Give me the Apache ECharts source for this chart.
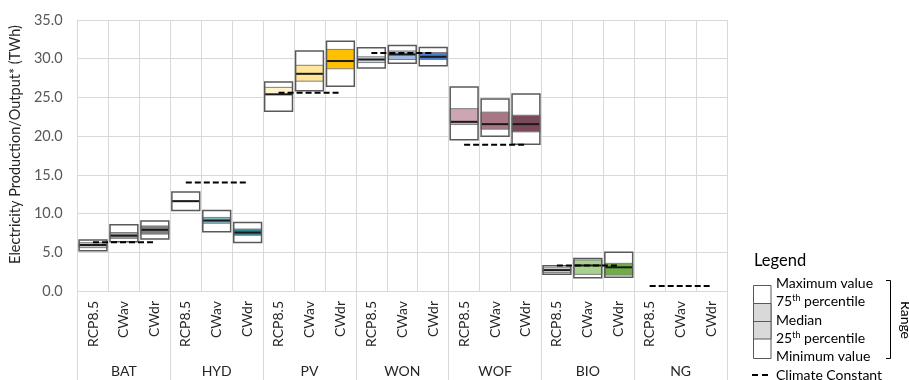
<!DOCTYPE html>
<html><head><meta charset="utf-8">
<script src="https://cdn.jsdelivr.net/npm/echarts@6/dist/echarts.min.js"></script>
<style>html,body{margin:0;padding:0;background:#fff}#c{width:909px;height:380px}</style>
</head><body><div id="c"></div>
<script>
// ---- data ----
const groups = ['BAT', 'HYD', 'PV', 'WON', 'WOF', 'BIO', 'NG'];
const scenarios = ['RCP8.5', 'CWav', 'CWdr'];
const minVal    = [5.2, 6.35, 6.7,   10.4, 7.65, 6.25,   23.2, 25.85, 26.45,   28.8, 29.4, 29.1,    19.55, 20.0, 18.95,   2.15, 1.72, 1.77,   null, null, null];
const q1Val     = [5.6, 6.8, 7.35,   11.6, 8.75, 7.2,    25.4, 27.1, 28.7,     29.5, 29.9, 29.9,    21.5, 20.9, 20.55,    2.4, 2.15, 2.06,    null, null, null];
const medianVal = [5.94, 7.15, 7.9,  11.6, 9.1, 7.55,    25.4, 28.05, 29.7,    29.9, 30.55, 30.25,  21.85, 21.55, 21.55,  2.7, 3.3, 3.06,     null, null, null];
const q3Val     = [6.24, 7.55, 8.4,  11.6, 9.5, 8.0,     26.3, 29.15, 31.2,    30.25, 31.0, 30.8,   23.55, 23.1, 22.7,    3.0, 4.0, 3.57,     null, null, null];
const maxVal    = [6.6, 8.55, 9.05,  12.8, 10.4, 8.85,   27.0, 31.0, 32.25,    31.4, 31.7, 31.45,   26.35, 24.8, 25.45,   3.27, 4.2, 4.99,    null, null, null];
const climateConstant = [6.3, 14.0, 25.6, 30.75, 18.9, 3.3, 0.65];
const yTicks = [0, 5, 10, 15, 20, 25, 30, 35];

// ---- styles ----
const bandColors = ['#c8c8c8', '#a3a3a3', '#7f7f7f',
                    '#ffffff', '#7fb7c0', '#2e8797',
                    '#fff2cc', '#ffe699', '#ffc000',
                    '#cdd5e3', '#a2badf', '#4a7fcf',
                    '#cda6b1', '#a97686', '#7b4a58',
                    '#e4e4e4', '#a9d18e', '#70ad47',
                    '#ffffff', '#ffffff', '#ffffff'];
const FONT = 'Lato, sans-serif';

const categories = [];
groups.forEach(g => scenarios.forEach(s => categories.push(g + '|' + s)));

const boxData = [];
categories.forEach((c, i) => {
  if (minVal[i] == null) return;
  boxData.push([i, minVal[i], q1Val[i], medianVal[i], q3Val[i], maxVal[i]]);
});

const lineSeries = groups.map((g, gi) => {
  const d = categories.map(() => '-');
  for (let k = 0; k < 3; k++) d[gi * 3 + k] = climateConstant[gi];
  return {
    type: 'line', name: 'Climate Constant ' + g, data: d, symbol: 'none', z: 5,
    lineStyle: { color: '#000', width: 2, type: [6, 3] }, silent: true
  };
});

const sup = { a: { fontSize: 14, fill: '#000', fontFamily: FONT }, s: { fontSize: 9, fill: '#000', fontFamily: FONT, verticalAlign: 'top', padding: [0, 0, 6, 0] } };

const chart = echarts.init(document.getElementById('c'), null, { renderer: 'canvas' });
chart.setOption({
  animation: false,
  textStyle: { fontFamily: FONT },
  grid: { left: 76, right: 182, top: 20, bottom: 89, containLabel: false },
  xAxis: [{
    type: 'category', data: categories, position: 'bottom',
    axisLine: { show: true, lineStyle: { color: '#d9d9d9', width: 1 } },
    axisTick: { show: false },
    splitLine: { show: true, interval: 0, lineStyle: { color: '#d9d9d9', width: 1 } },
    axisLabel: { interval: 0, rotate: 90, margin: 10, fontSize: 14, color: '#262626', fontFamily: FONT,
      formatter: v => v.split('|')[1] }
  }, {
    type: 'category', data: groups, position: 'bottom',
    axisLine: { show: false },
    axisTick: { show: true, interval: 0, length: 89, lineStyle: { color: '#d9d9d9', width: 1 } },
    axisLabel: { interval: 0, margin: 73, fontSize: 14, color: '#262626', fontFamily: FONT }
  }],
  yAxis: {
    type: 'value', min: yTicks[0], max: yTicks[yTicks.length - 1], interval: 5,
    name: 'Electricity Production/Output* (TWh)', nameLocation: 'middle', nameGap: 51,
    nameTextStyle: { fontSize: 14.5, color: '#262626', fontFamily: FONT, padding: [0, 0, 0, 22] },
    axisLine: { show: false }, axisTick: { show: false },
    axisLabel: { fontSize: 14.5, color: '#595959', margin: 15, fontFamily: FONT, formatter: v => v.toFixed(1) },
    splitLine: { lineStyle: { color: '#d9d9d9', width: 1 } }
  },
  series: [{
    type: 'custom', name: 'range', data: boxData, z: 3,
    encode: { x: 0, y: [1, 2, 3, 4, 5] },
    renderItem: function (params, api) {
      const i = api.value(0);
      const x = api.coord([i, 0])[0];
      const w = api.size([1, 0])[0] * 0.9;
      const yMin = api.coord([i, api.value(1)])[1];
      const yQ1 = api.coord([i, api.value(2)])[1];
      const yMed = api.coord([i, api.value(3)])[1];
      const yQ3 = api.coord([i, api.value(4)])[1];
      const yMax = api.coord([i, api.value(5)])[1];
      const x0 = x - w / 2;
      return { type: 'group', children: [
        { type: 'rect', shape: { x: x0, y: yMax, width: w, height: yMin - yMax }, style: { fill: '#fff', stroke: null } },
        { type: 'rect', shape: { x: x0, y: yQ3, width: w, height: yQ1 - yQ3 }, style: { fill: bandColors[i], stroke: '#7f7f7f', lineWidth: 1 } },
        { type: 'line', shape: { x1: x0, y1: yMed, x2: x0 + w, y2: yMed }, style: { stroke: '#1a1a1a', lineWidth: 2 } },
        { type: 'rect', shape: { x: x0, y: yMax, width: w, height: yMin - yMax }, style: { fill: 'none', stroke: '#595959', lineWidth: 1.5 } }
      ] };
    }
  }].concat(lineSeries),
  graphic: [
    { type: 'text', left: 754, top: 252, style: { text: 'Legend', fontSize: 16.5, fill: '#000', fontFamily: FONT } },
    { type: 'rect', shape: { x: 753.5, y: 285.5, width: 17.5, height: 73 }, style: { fill: '#fff', stroke: '#595959', lineWidth: 1 } },
    { type: 'rect', shape: { x: 753.5, y: 303.5, width: 17.5, height: 35.5 }, style: { fill: '#d9d9d9', stroke: '#595959', lineWidth: 1 } },
    { type: 'line', shape: { x1: 753.5, y1: 321.5, x2: 771, y2: 321.5 }, style: { stroke: '#595959', lineWidth: 1 } },
    { type: 'text', x: 776, y: 283, style: { text: 'Maximum value', fontSize: 14, fill: '#000', fontFamily: FONT, verticalAlign: 'middle' } },
    { type: 'text', x: 776, y: 301, style: { text: '{a|75}{s|th}{a| percentile}', fontFamily: FONT, verticalAlign: 'middle', rich: sup } },
    { type: 'text', x: 776, y: 320, style: { text: 'Median', fontSize: 14, fill: '#000', fontFamily: FONT, verticalAlign: 'middle' } },
    { type: 'text', x: 776, y: 338, style: { text: '{a|25}{s|th}{a| percentile}', fontFamily: FONT, verticalAlign: 'middle', rich: sup } },
    { type: 'text', x: 776, y: 356, style: { text: 'Minimum value', fontSize: 14, fill: '#000', fontFamily: FONT, verticalAlign: 'middle' } },
    { type: 'polyline', shape: { points: [[886, 280.5], [890.5, 280.5], [890.5, 358.5], [886, 358.5]] }, style: { fill: 'none', stroke: '#000', lineWidth: 1 } },
    { type: 'text', x: 906, y: 320, rotation: -Math.PI / 2, style: { text: 'Range', fontSize: 14, fill: '#000', fontFamily: FONT, align: 'center', verticalAlign: 'middle' } },
    { type: 'line', shape: { x1: 752, y1: 375, x2: 771, y2: 375 }, style: { stroke: '#000', lineWidth: 2, lineDash: [6, 4] } },
    { type: 'text', x: 776, y: 375, style: { text: 'Climate Constant', fontSize: 14, fill: '#000', fontFamily: FONT, verticalAlign: 'middle' } }
  ]
});
</script>
</body></html>
